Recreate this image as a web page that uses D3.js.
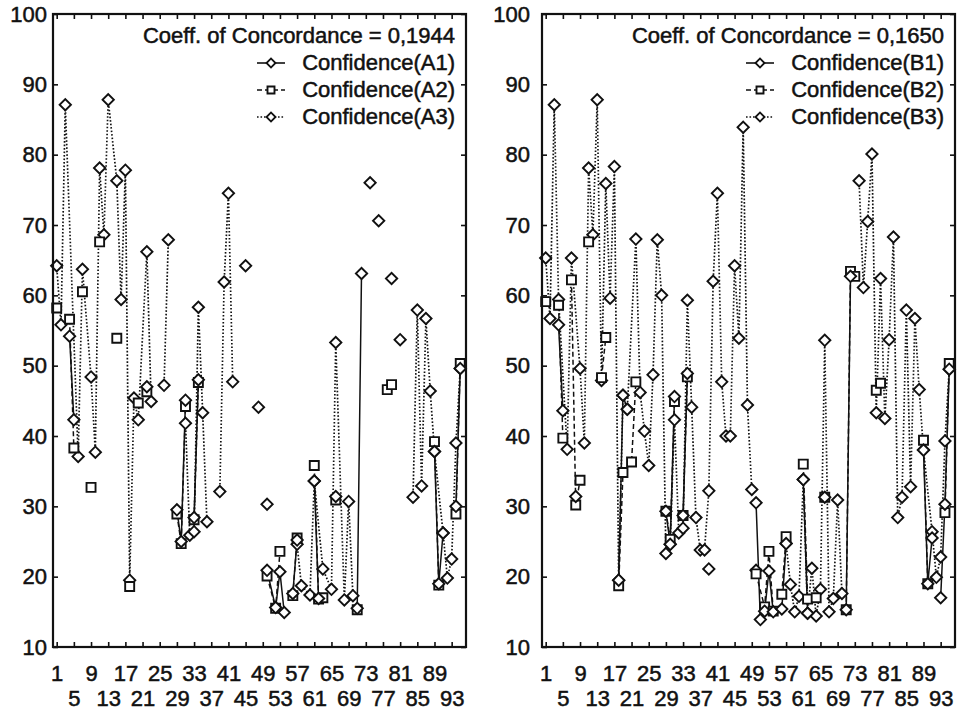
<!DOCTYPE html>
<html>
<head>
<meta charset="utf-8">
<script src="https://cdn.jsdelivr.net/npm/d3@7"></script>
<style>
  body { margin: 0; background: #fff; }
  svg text { font-family: "Liberation Sans", Arial, sans-serif; font-size: 22px; fill: #111; stroke: #111; stroke-width: 0.5px; }
</style>
</head>
<body>
<svg id="chart" width="960" height="711"></svg>
<script>
const caseTicks = d3.range(1, 94, 4);   // 1, 5, 9, ... 93
const yTicks = d3.range(10, 101, 10);

// [case, confidence]; null breaks the line
const coeffA = '0,1944';
const confA1 = [[4,54.2],[5,42.3],null,[22,47.0],null,[29,29.5],[30,25.0],[31,45.1],null,[33,28.4],[34,48.0],null,
  [50,20.9],[52,15.6],[53,20.7],[54,14.9],null,[56,17.6],[57,25.2],null,[61,33.6],[62,16.9],null,[66,31.4],null,
  [71,15.5],[72,63.1],null,[89,37.8],[90,19.0],[91,26.2],null,[94,30.0],[95,49.6]];
const confA2 = [[1,58.2],null,[4,56.6],[5,38.3],null,[7,60.5],null,[9,32.7],null,[11,67.6],null,[15,53.9],null,[18,18.6],null,
  [20,44.7],[22,46.3],null,[29,28.9],[30,24.7],[31,44.2],null,[33,28.1],[34,47.6],null,[50,20.1],[52,15.5],[53,23.6],null,
  [56,17.3],[57,25.5],null,[61,35.8],[62,16.8],[63,17.0],null,[66,30.9],null,[71,15.3],null,[78,46.6],[79,47.3],null,
  [89,39.2],[90,18.8],null,[94,28.9],[95,50.3]];
const confA3 = [[1,64.2],[2,55.8],[3,87.1],[6,37.1],[7,63.7],[9,48.4],[10,37.7],[11,78.1],[12,68.6],[13,87.8],[15,76.3],
  [16,59.4],[17,77.8],[18,19.5],[19,45.4],[20,42.3],[22,66.2],[23,44.9],null,[26,47.2],[27,67.9],null,
  [31,41.8],[32,25.9],[33,26.4],[34,58.3],[35,43.3],[36,27.8],null,[39,32.1],[40,61.9],[41,74.5],[42,47.7],null,
  [45,64.2],null,[48,44.1],null,[50,30.3],null,[57,24.6],[58,18.7],[60,17.4],[61,33.6],[63,21.1],[65,18.2],[66,53.3],
  [68,16.7],[69,30.7],[70,17.3],null,[74,76.0],null,[76,70.6],null,[79,62.4],null,[81,53.7],null,
  [84,31.3],[85,57.9],[86,32.9],[87,56.7],[88,46.4],[89,37.8],[91,26.2],[92,19.8],[93,22.5],[94,39.0],[95,49.6]];

const coeffB = '0,1650';
const confB1 = [[4,55.8],[5,43.6],null,[8,31.4],null,[18,19.5],[19,45.8],[20,43.8],null,[29,29.3],[30,24.6],[31,45.6],null,
  [33,28.7],[34,48.9],null,[39,21.1],null,[50,30.5],[51,13.9],[52,15.1],[53,20.8],[54,15.0],null,[56,15.4],[57,24.7],null,
  [61,33.8],[62,14.8],null,[66,31.3],null,[71,15.3],[72,62.7],null,[89,38.0],[90,19.0],[91,25.5],null,
  [93,17.0],[94,30.3],[95,49.5]];
const confB2 = [[1,59.1],null,[4,58.6],[5,39.7],null,[7,62.2],[8,30.2],[9,33.7],null,[11,67.6],null,[14,48.3],[15,54.0],null,
  [18,18.7],[19,34.8],[21,36.3],[22,47.7],null,[29,29.3],[30,25.3],[31,44.9],null,[33,28.7],[34,48.4],null,
  [50,20.4],[52,15.7],[53,23.6],[54,15.1],null,[56,17.5],[57,25.7],null,[61,36.0],[62,16.8],[64,17.0],null,[66,31.3],null,
  [71,15.3],[72,63.4],[73,62.7],null,[78,46.5],[79,47.5],null,[89,39.4],[90,19.0],null,[94,29.1],[95,50.3]];
const confB3 = [[1,65.3],[2,56.7],[3,87.1],[4,59.4],[6,38.1],[7,65.3],[9,49.6],[10,39.0],[11,78.1],[12,68.6],[13,87.8],
  [14,47.9],[15,75.9],[16,59.6],[17,78.3],[18,19.5],[19,45.8],[20,43.8],[22,68.0],[23,46.2],[24,40.7],[25,35.8],
  [26,48.7],[27,67.9],[28,60.0],[29,23.3],[30,24.6],[31,42.3],[32,26.2],[33,26.9],[34,59.3],[35,44.1],[36,28.4],
  [37,23.8],[38,23.8],[39,32.2],[40,62.0],[41,74.5],[42,47.7],[43,40.0],[44,40.0],[45,64.2],[46,53.9],[47,83.9],
  [48,44.4],[49,32.4],null,[50,20.9],null,[57,24.7],[58,18.9],[59,15.0],[60,17.2],[61,33.8],[62,14.8],[63,21.2],
  [64,14.4],[65,18.2],[66,53.6],[67,15.0],[68,16.9],[69,30.9],[70,17.6],null,[74,76.3],[75,61.1],[76,70.5],[77,80.1],
  [78,43.3],[79,62.4],[80,42.5],[81,53.7],[82,68.3],[83,28.4],[84,31.3],[85,57.9],[86,32.8],[87,56.7],[88,46.6],
  [89,38.0],[91,26.4],[92,19.9],[93,22.8],[94,39.3],[95,49.5]];

const panels = [
  { x0: 53, labelPad: 6, coeff: coeffA, series: [confA1, confA2, confA3],
    names: ['Confidence(A1)', 'Confidence(A2)', 'Confidence(A3)'] },
  { x0: 542, labelPad: 12, coeff: coeffB, series: [confB1, confB2, confB3],
    names: ['Confidence(B1)', 'Confidence(B2)', 'Confidence(B3)'] }
];

const styles = [
  { dash: null, marker: 'diamond' },
  { dash: '5,3', marker: 'square' },
  { dash: '1.6,1.9', marker: 'diamond' }
];

const W = 413, plotTop = 14, plotBottom = 647;
const svg = d3.select('#chart');
const y = d3.scaleLinear().domain([10, 100]).range([plotBottom, plotTop]);

const markerPath = (kind, big) => {
  if (kind === 'diamond') return d3.symbol(d3.symbolSquare, big ? 64 : 40)();
  return d3.symbol(d3.symbolSquare, big ? 81 : 49)();
};
const drawMarker = (g, kind, cx, cy, big) => {
  g.append('path')
    .attr('d', markerPath(kind, big))
    .attr('transform', `translate(${cx},${cy})` + (kind === 'diamond' ? ' rotate(45)' : ''))
    .attr('fill', '#fff').attr('stroke', '#111').attr('stroke-width', 1.9);
};

panels.forEach(p => {
  const x = d3.scaleLinear().domain([0.14, 96.34]).range([p.x0, p.x0 + W]);
  const g = svg.append('g');

  // axes, ticks pointing inward
  const bx = g.append('g').attr('transform', `translate(0,${plotBottom})`)
    .call(d3.axisBottom(x).tickValues(caseTicks).tickSize(-5).tickFormat(d3.format('d')));
  bx.selectAll('text').attr('y', (d, i) => i % 2 ? 43 : 18).style('font-size', '22px').attr('fill', '#111');
  g.append('g').attr('transform', `translate(0,${plotTop})`)
    .call(d3.axisTop(x).tickValues(caseTicks).tickSize(-5).tickFormat(''));
  const ly = g.append('g').attr('transform', `translate(${p.x0},0)`)
    .call(d3.axisLeft(y).tickValues(yTicks).tickSize(-5).tickPadding(p.labelPad));
  ly.selectAll('text').style('font-size', '22px').attr('fill', '#111');
  g.append('g').attr('transform', `translate(${p.x0 + W},0)`)
    .call(d3.axisRight(y).tickValues(yTicks).tickSize(-5).tickFormat(''));
  g.selectAll('.domain').remove();
  g.selectAll('.tick line').attr('stroke', '#111').attr('stroke-width', 1.6);

  // lines
  const line = d3.line().defined(d => d !== null).x(d => x(d[0])).y(d => y(d[1]));
  const plot = g.append('g');
  [2, 1, 0].forEach(k => {
    plot.append('path').datum(p.series[k])
      .attr('d', line).attr('fill', 'none').attr('stroke', '#111')
      .attr('stroke-width', k === 2 ? 1.7 : 1.5)
      .attr('stroke-dasharray', styles[k].dash);
  });
  // markers
  [2, 1, 0].forEach(k => {
    p.series[k].filter(d => d !== null).forEach(d => drawMarker(plot, styles[k].marker, x(d[0]), y(d[1]), true));
  });

  // frame
  g.append('rect').attr('x', p.x0).attr('y', plotTop).attr('width', W).attr('height', plotBottom - plotTop)
    .attr('fill', 'none').attr('stroke', '#111').attr('stroke-width', 2.2);

  // legend
  const xr = p.x0 + W - 11;
  g.append('text').attr('x', xr).attr('y', 43).attr('text-anchor', 'end')
    .text('Coeff. of Concordance = ' + p.coeff);
  p.names.forEach((name, k) => {
    const by = 70 + k * 27;
    g.append('text').attr('x', xr).attr('y', by).attr('text-anchor', 'end').text(name);
    g.append('line').attr('x1', xr - 198).attr('x2', xr - 170).attr('y1', by - 7).attr('y2', by - 7)
      .attr('stroke', '#111').attr('stroke-width', 1.6).attr('stroke-dasharray', styles[k].dash);
    drawMarker(g, styles[k].marker, xr - 184, by - 7, false);
  });
});
</script>
</body>
</html>
